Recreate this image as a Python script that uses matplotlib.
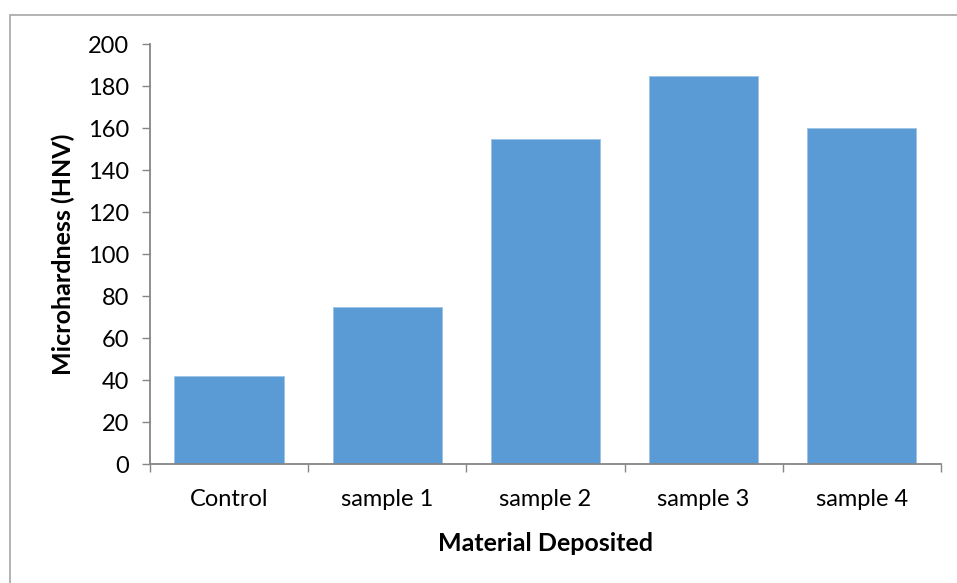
import matplotlib.pyplot as plt
import matplotlib.patches as patches
import numpy as np

plt.rcParams['font.family'] = ['Lato', 'DejaVu Sans']

# Microhardness by material deposited
samples = ['Control', 'sample 1', 'sample 2', 'sample 3', 'sample 4']
hardness = [42, 75, 155, 185, 160]
y_ticks = [0, 20, 40, 60, 80, 100, 120, 140, 160, 180, 200]

fig = plt.figure(figsize=(9.57, 5.83), dpi=100)
ax = fig.add_axes([0.1567, 0.2041, 0.8265, 0.7204])

# Light grey chart-area border
fig.patches.append(patches.Rectangle((9.5 / 957, -0.1), 1.2, 1.1 - 15.5 / 583,
                                     transform=fig.transFigure, fill=False,
                                     edgecolor='#a6a6a6', linewidth=1.2))

x = np.arange(len(samples))
ax.bar(x, hardness, width=0.69, color='#5b9bd5', edgecolor='#9dc3e6', linewidth=0.6)

ax.set_xlim(-0.5, len(samples) - 0.5)
ax.set_ylim(0, 200)
ax.set_yticks(y_ticks)
ax.set_xticks(x)
ax.set_xticklabels(samples)
ax.set_xticks(np.arange(len(samples) + 1) - 0.5, minor=True)

ax.tick_params(axis='y', length=6, width=1, color='#868686', labelsize=17, pad=9)
ax.tick_params(axis='x', which='major', length=0, labelsize=17, pad=18)
ax.tick_params(axis='x', which='minor', length=6, width=1, color='#868686')

for side in ['top', 'right']:
    ax.spines[side].set_visible(False)
for side in ['left', 'bottom']:
    ax.spines[side].set_color('#868686')
    ax.spines[side].set_linewidth(1.3)

ax.set_xlabel('Material Deposited', fontsize=18, fontweight='bold', labelpad=16)
ax.set_ylabel('Microhardness (HNV)', fontsize=18, fontweight='bold', labelpad=9)

fig.savefig('out.png', dpi=100)
